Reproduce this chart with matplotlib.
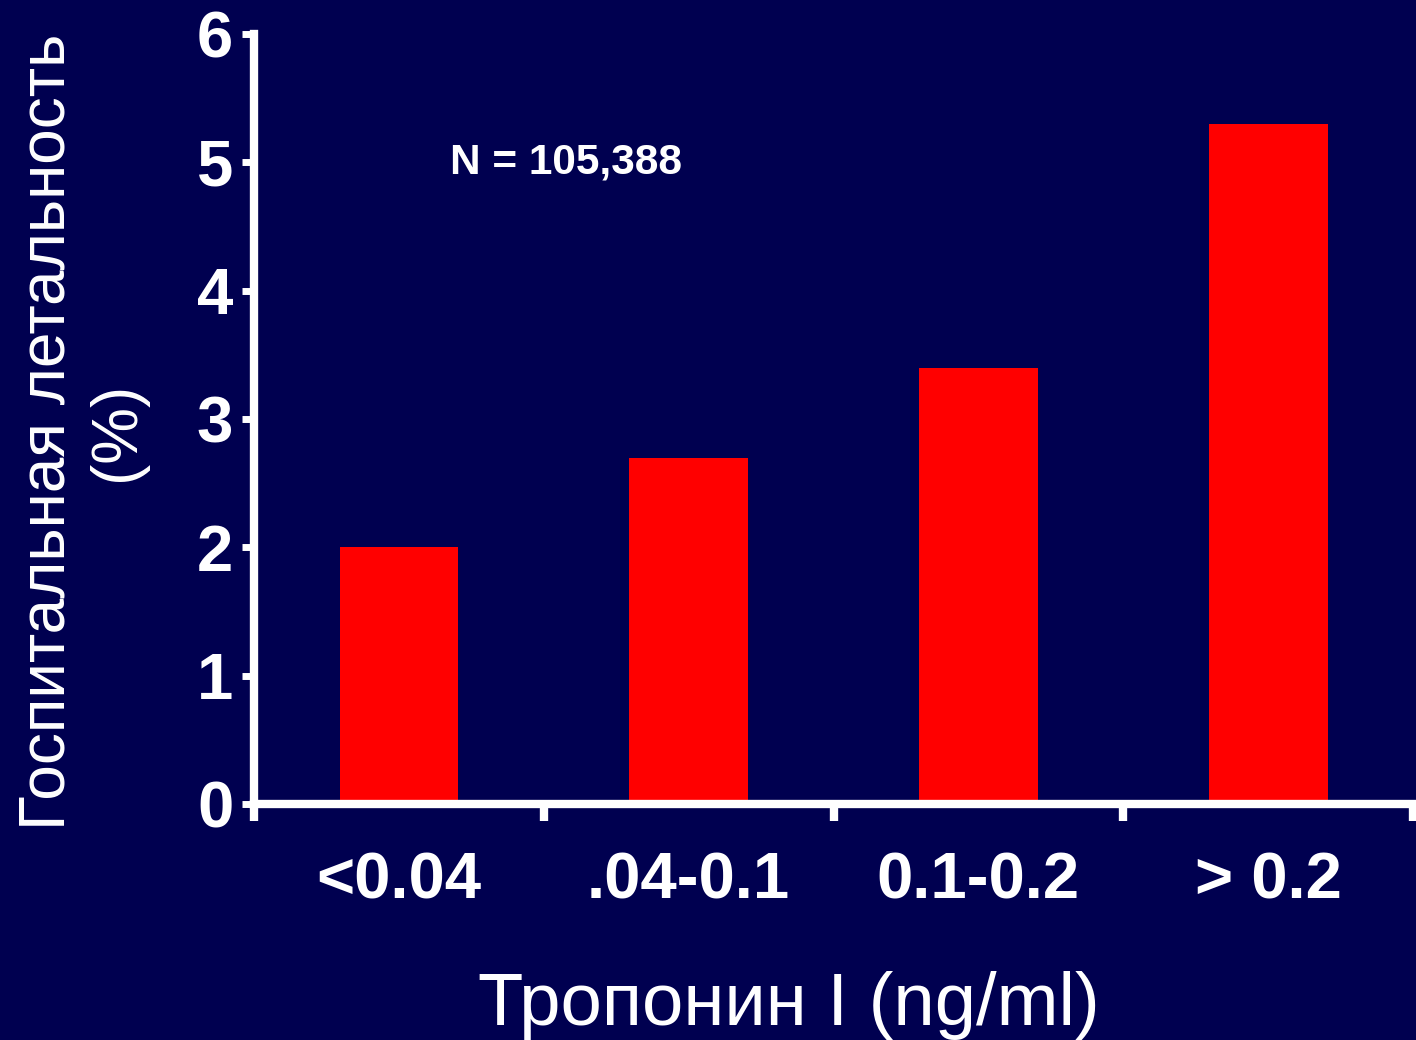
import numpy as np
import matplotlib
matplotlib.use('Agg')
import matplotlib.pyplot as plt

# Data
categories = ['<0.04', '.04-0.1', '0.1-0.2', '> 0.2']
mortality = [2.0, 2.7, 3.4, 5.3]
y_ticks = [0, 1, 2, 3, 4, 5, 6]

bg_color = '#000050'
bar_color = '#ff0000'
fg_color = 'white'

plt.rcParams['font.family'] = ['Liberation Sans', 'DejaVu Sans']

fig = plt.figure(figsize=(14.16, 10.4), dpi=100, facecolor=bg_color)
ax = fig.add_axes([0.1794, 0.2269, 0.8185, 0.7404], facecolor=bg_color)

x = np.arange(len(categories))
ax.bar(x, mortality, width=0.41, color=bar_color, zorder=2)

ax.set_xlim(-0.5, len(categories) - 0.5)
ax.set_ylim(0, 6)

# spines
for side in ['top', 'right']:
    ax.spines[side].set_visible(False)
for side in ['left', 'bottom']:
    ax.spines[side].set_color(fg_color)
    ax.spines[side].set_linewidth(6)
    ax.spines[side].set_zorder(3)

# y ticks
ax.set_yticks(y_ticks)
ax.set_yticklabels([str(t) for t in y_ticks])
ax.tick_params(axis='y', colors=fg_color, length=9, width=5, pad=6,
               labelsize=47)
for lbl in ax.get_yticklabels():
    lbl.set_fontweight('bold')

# x ticks: marks at category boundaries, labels at centers
ax.set_xticks(np.arange(-0.5, len(categories), 1.0))
ax.set_xticklabels([])
ax.tick_params(axis='x', which='major', colors=fg_color, length=12, width=6)
ax.set_xticks(x, minor=True)
ax.set_xticklabels(categories, minor=True)
ax.tick_params(axis='x', which='minor', length=0, pad=34, colors=fg_color,
               labelsize=47)
for lbl in ax.get_xticklabels(minor=True):
    lbl.set_fontweight('bold')

ax.text(0.175, 5.0, 'N = 105,388', color=fg_color, fontsize=30.5,
        fontweight='bold', ha='left', va='center')

fig.text(0.557, 0.0144, 'Тропонин I (ng/ml)', color=fg_color, fontsize=53.5,
         ha='center', va='baseline')
fig.text(0.058, 0.585, 'Госпитальная летальность\n(%)', color=fg_color,
         fontsize=46, rotation=90, ha='center', va='center',
         multialignment='center', linespacing=1.2)

plt.savefig('out.png', dpi=100, facecolor=bg_color)
plt.close(fig)
